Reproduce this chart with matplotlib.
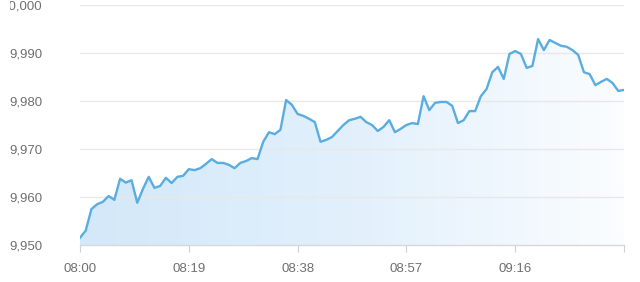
import numpy as np
import matplotlib
matplotlib.use("Agg")
import matplotlib.pyplot as plt
from matplotlib.colors import LinearSegmentedColormap
from matplotlib.patches import PathPatch, Rectangle

plt.rcParams['font.family'] = ['Liberation Sans', 'DejaVu Sans']

# === Datos ===
minutos = list(range(96))  # 08:00 -> 09:35, un punto por minuto
valores = [
    9951.5, 9953.0, 9957.5, 9958.5, 9959.0, 9960.2, 9959.4, 9963.8, 9963.0, 9963.5,
    9958.8, 9961.7, 9964.2, 9961.9, 9962.3, 9964.0, 9962.9, 9964.2, 9964.4, 9965.8,
    9965.6, 9966.0, 9966.9, 9967.9, 9967.1, 9967.1, 9966.7, 9966.0, 9967.1, 9967.5,
    9968.1, 9967.9, 9971.5, 9973.5, 9973.1, 9974.0, 9980.2, 9979.2, 9977.3, 9976.9,
    9976.3, 9975.6, 9971.5, 9971.9, 9972.5, 9973.75, 9975.0, 9976.0, 9976.3, 9976.7,
    9975.6, 9975.0, 9973.75, 9974.6, 9976.0, 9973.5, 9974.2, 9975.0, 9975.4, 9975.2,
    9981.0, 9978.1, 9979.6, 9979.8, 9979.8, 9979.0, 9975.4, 9976.0, 9977.9, 9977.9,
    9981.0, 9982.5, 9986.0, 9987.1, 9984.6, 9989.8, 9990.4, 9989.8, 9986.9, 9987.3,
    9992.9, 9990.6, 9992.7, 9992.1, 9991.5, 9991.3, 9990.6, 9989.6, 9986.0, 9985.6,
    9983.3, 9984.0, 9984.6, 9983.75, 9982.1, 9982.3,
]
ticks_x = [0, 19, 38, 57, 76, 95]
etiquetas_x = ["08:00", "08:19", "08:38", "08:57", "09:16", ""]
ticks_y = [9950, 9960, 9970, 9980, 9990, 10000]
etiquetas_y = ["9,950", "9,960", "9,970", "9,980", "9,990", "10,000"]

# === Grafico ===
fig = plt.figure(figsize=(6.4, 2.82), dpi=100)
ax = fig.add_axes([80 / 640, 1 - 245 / 282, 544 / 640, 240 / 282])

x = np.array(minutos)
y = np.array(valores)
ymin, ymax = 9950, 10000

# relleno con degradado horizontal
relleno = ax.fill_between(x, y, ymin, color='none', lw=0)
cmap = LinearSegmentedColormap.from_list('fondo', ['#d3e8f9', '#e2f0fc', '#fbfdff'])
grad = np.linspace(0, 1, 256).reshape(1, -1)
img = ax.imshow(grad, cmap=cmap, aspect='auto', extent=[x[0], x[-1], ymin, ymax],
                origin='lower', zorder=1)
parche = PathPatch(relleno.get_paths()[0], transform=ax.transData,
                   facecolor='none', edgecolor='none')
ax.add_patch(parche)
img.set_clip_path(parche)

ax.plot(x, y, color='#5aade0', lw=1.7, zorder=3, solid_joinstyle='round')

ax.set_xlim(x[0], x[-1])
ax.set_ylim(ymin, ymax)

for t in ticks_y[1:]:
    ax.axhline(t, color='#e8e8e8', lw=1, zorder=2)

ax.set_yticks(ticks_y)
ax.set_yticklabels(etiquetas_y)
ax.tick_params(axis='y', length=0, pad=27, labelsize=9.5, labelcolor='#707070')
ax.set_xticks(ticks_x)
ax.set_xticklabels(etiquetas_x)
ax.tick_params(axis='x', length=5, width=0.8, color='#d0d0d0', pad=8,
               labelsize=9.5, labelcolor='#707070')

for lado in ['left', 'right', 'top']:
    ax.spines[lado].set_visible(False)
ax.spines['bottom'].set_color('#d8d8d8')
ax.spines['bottom'].set_linewidth(1)

# el borde izquierdo de la imagen original corta las etiquetas
fig.add_artist(Rectangle((0, 0), 10 / 640, 1, transform=fig.transFigure,
                         facecolor='white', edgecolor='none', zorder=10))

fig.savefig('out.png', dpi=100)
plt.close()
